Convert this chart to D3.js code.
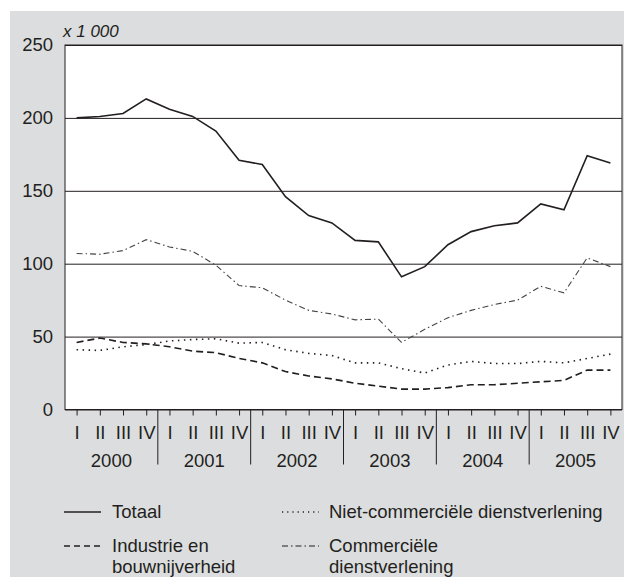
<!DOCTYPE html>
<html>
<head>
<meta charset="utf-8">
<script src="https://cdn.jsdelivr.net/npm/d3@7"></script>
<style>
  body { margin: 0; background: #fff; }
  text { font-family: 'Liberation Sans', Arial, sans-serif; fill: #231f20; }
</style>
</head>
<body>
<div id="chart"></div>
<script>
const years = ['2000', '2001', '2002', '2003', '2004', '2005'];
const quarters = ['I', 'II', 'III', 'IV'];
const yTicks = [0, 50, 100, 150, 200, 250];

const totaal = [200, 201, 203, 213, 206, 201, 191, 171, 168, 146, 133, 128,
  116, 115, 91, 98, 113, 122, 126, 128, 141, 137, 174, 169];
const industrie = [46, 49, 46, 45, 43, 40, 39, 35, 32, 26, 23, 21,
  18, 16, 14, 14, 15, 17, 17, 18, 19, 20, 27, 27];
const nietCommercieel = [41, 40.5, 43, 44.5, 47, 48, 48.5, 45.5, 46, 41, 38.5, 37,
  32, 32, 28, 25, 30.5, 33, 31.5, 31.5, 33, 32, 35, 38];
const commercieel = [107, 106.5, 109, 116.5, 111.5, 108.5, 99, 85, 83.5, 75, 68, 65.5,
  61.5, 62, 46, 55, 63, 68, 72, 75, 84.5, 80, 104, 98];

const width = 624, height = 577;
const margin = { top: 45, right: 2, bottom: 167.5, left: 65 };
const ink = '#231f20';
const fontSize = 18.5;

const periods = years.flatMap(y => quarters.map(q => y + '-' + q));

const svg = d3.select('#chart').append('svg')
  .attr('width', width)
  .attr('height', height);

svg.append('rect')
  .attr('x', 10).attr('y', 11)
  .attr('width', width - 10).attr('height', height - 11)
  .attr('fill', '#dcdddf');

const x = d3.scalePoint()
  .domain(periods)
  .range([margin.left, width - margin.right])
  .padding(0.5);

const xYear = d3.scaleBand()
  .domain(years)
  .range([margin.left, width - margin.right]);

const y = d3.scaleLinear()
  .domain([0, 250])
  .range([height - margin.bottom, margin.top]);

// plot area
svg.append('rect')
  .attr('x', margin.left).attr('y', margin.top)
  .attr('width', width - margin.right - margin.left)
  .attr('height', y(0) - margin.top)
  .attr('fill', '#fff')
  .attr('stroke', ink)
  .attr('stroke-width', 1);

// gridlines + y labels
svg.append('g')
  .attr('transform', `translate(${margin.left},0)`)
  .call(d3.axisLeft(y).tickValues(yTicks).tickSize(-(width - margin.right - margin.left)).tickPadding(12))
  .call(g => g.select('.domain').remove())
  .call(g => g.selectAll('line').attr('stroke', ink).attr('stroke-width', 1))
  .call(g => g.selectAll('text').attr('font-size', fontSize).attr('fill', ink)
    .style('font-family', "'Liberation Sans', Arial, sans-serif"));

svg.append('text')
  .attr('x', 63).attr('y', 37)
  .attr('font-size', 17)
  .attr('font-style', 'italic')
  .text('x 1 000');

// x axis: quarter ticks
svg.append('g')
  .attr('transform', `translate(0,${y(0)})`)
  .call(d3.axisBottom(x).tickSize(6).tickPadding(10).tickFormat(d => d.split('-')[1]))
  .call(g => g.select('.domain').remove())
  .call(g => g.selectAll('line').attr('stroke', ink))
  .call(g => g.selectAll('text').attr('font-size', fontSize).attr('fill', ink)
    .style('font-family', "'Liberation Sans', Arial, sans-serif"));

svg.append('line')
  .attr('x1', margin.left).attr('x2', width - margin.right)
  .attr('y1', y(0)).attr('y2', y(0))
  .attr('stroke', ink).attr('stroke-width', 1.2);

// year separators and labels
svg.append('g')
  .selectAll('line')
  .data(years.slice(1))
  .join('line')
  .attr('x1', d => xYear(d)).attr('x2', d => xYear(d))
  .attr('y1', y(0)).attr('y2', y(0) + 55)
  .attr('stroke', ink).attr('stroke-width', 1);

svg.append('g')
  .selectAll('text')
  .data(years)
  .join('text')
  .attr('x', d => xYear(d) + xYear.bandwidth() / 2)
  .attr('y', y(0) + 57)
  .attr('text-anchor', 'middle')
  .attr('font-size', fontSize)
  .text(d => d);

// series
const series = [
  { name: 'Totaal', values: totaal, dash: null, width: 1.6, color: ink },
  { name: 'Industrie', values: industrie, dash: '7,4', width: 1.6, color: ink },
  { name: 'Niet-commercieel', values: nietCommercieel, dash: '1.5,4.5', width: 1.6, color: ink },
  { name: 'Commercieel', values: commercieel, dash: '6,3,1.5,3', width: 1.1, color: '#444' }
];

const line = d3.line()
  .x((d, i) => x(periods[i]))
  .y(d => y(d));

svg.append('g')
  .selectAll('path')
  .data(series)
  .join('path')
  .attr('d', d => line(d.values))
  .attr('fill', 'none')
  .attr('stroke', d => d.color)
  .attr('stroke-width', d => d.width)
  .attr('stroke-dasharray', d => d.dash);

// legend
const legend = [
  { lines: ['Totaal'], dash: null, width: 1.6, color: ink, x: 64, y: 512, tx: 48 },
  { lines: ['Niet-commerciële dienstverlening'], dash: '1.2,4', width: 1.4, color: ink, x: 282, y: 512, tx: 47 },
  { lines: ['Industrie en', 'bouwnijverheid'], dash: '6,4', width: 1.6, color: ink, x: 64, y: 546, tx: 48 },
  { lines: ['Commerciële', 'dienstverlening'], dash: '6,3,1.5,3', width: 1.2, color: ink, x: 282, y: 546, tx: 47 }
];

const lg = svg.append('g').selectAll('g').data(legend).join('g')
  .attr('transform', d => `translate(${d.x},${d.y})`);

lg.append('line')
  .attr('x1', 0).attr('x2', 37)
  .attr('stroke', d => d.color)
  .attr('stroke-width', d => d.width)
  .attr('stroke-dasharray', d => d.dash);

lg.each(function(d) {
  const t = d3.select(this).append('text')
    .attr('y', 6)
    .attr('font-size', fontSize);
  t.selectAll('tspan')
    .data(d.lines)
    .join('tspan')
    .attr('x', d.tx)
    .attr('dy', (s, i) => i === 0 ? 0 : 21)
    .text(s => s);
});
</script>
</body>
</html>
